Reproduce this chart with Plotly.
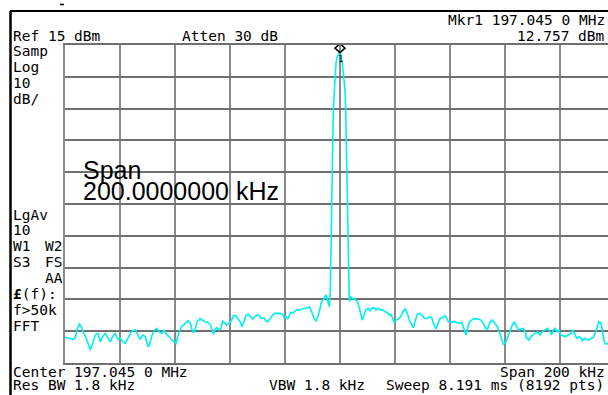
import plotly.graph_objects as go

# ---- data (frequency offset from centre in kHz, level in dBm) ----
center_mhz = 197.045
span_khz = 200
ref_level_dbm = 15
db_per_div = 10

freq_khz = [
    -100.0, -98.67, -96.85, -96.24, -95.64, -94.79, -94.06, -93.21, -92.36, -91.64,
    -90.79, -89.94, -88.97, -88.0, -87.15, -86.30, -85.33, -84.36, -83.52, -82.67,
    -81.70, -80.73, -79.88, -79.03, -78.06, -77.09, -76.24, -75.39, -74.42, -73.45,
    -72.61, -71.76, -70.79, -69.82, -69.21, -68.36, -67.39, -66.55, -65.70, -64.73,
    -64.0, -63.27, -62.30, -61.33, -60.36, -59.64, -58.67, -57.70, -56.85, -56.0,
    -55.27, -54.42, -53.58, -52.85, -52.0, -51.15,
    -50.91, -49.94, -49.09, -48.24, -47.27, -46.67, -46.06, -45.45, -44.85, -44.0,
    -43.27, -42.67, -42.06, -41.21, -40.24, -39.39, -38.79, -37.94, -37.21, -36.36,
    -35.64, -34.91, -34.18, -33.33, -32.48, -31.76, -30.91, -30.06, -29.33, -28.48,
    -27.64, -26.91, -26.18, -25.21, -24.48, -23.64, -22.79, -21.82, -20.85, -20.24,
    -19.64, -19.03, -18.42, -17.94, -17.21, -16.36, -15.52, -14.55, -13.94, -13.09,
    -12.36, -11.88, -11.15, -10.30, -9.45, -8.73, -8.0, -7.27, -6.67, -5.82,
    -5.09, -4.61, -4.24, -3.88,
    -3.52, -3.39, -3.15, -2.91, -2.55, -2.42, -2.06, -1.82, -1.45, -0.91, 0.0,
    0.55, 0.84, 1.35, 1.82, 2.07, 2.18, 2.55, 2.91, 3.15, 3.39,
    3.88, 4.61, 5.45, 6.30, 7.03, 7.64, 8.12, 8.73, 9.45, 10.30,
    10.91, 11.52, 12.36, 13.09, 13.94, 14.55, 15.52, 16.36, 17.21, 17.94,
    18.55, 19.15, 19.76, 20.36, 21.21, 22.06, 23.03, 23.76, 24.48, 25.21,
    26.06, 26.67, 27.27, 28.12, 29.09, 30.06, 30.91, 31.76, 32.73, 33.45,
    34.18, 34.91, 35.76, 36.36, 37.33, 38.18, 38.79, 39.39, 40.0, 40.73,
    41.45, 42.42, 43.39, 44.24, 45.09, 45.82, 46.42, 47.03, 47.88, 48.73,
    50.30, 51.27, 52.12, 52.97, 53.70, 54.55, 55.39, 56.36, 57.21, 57.94,
    58.79, 59.39, 60.24, 60.97, 61.82, 62.67, 63.39, 64.24, 64.85, 65.82,
    66.67, 67.27, 67.88, 68.73, 69.45, 70.30, 71.15, 71.88, 72.73, 73.58,
    74.55, 75.52, 76.36, 76.97, 77.58, 78.18, 78.91, 79.64, 80.36, 81.21,
    82.06, 83.03, 84.0, 84.61, 85.21, 86.06, 86.91, 87.64, 88.12, 88.85,
    89.70, 90.55, 91.27, 92.12, 92.97, 93.70, 94.18, 94.91, 95.52, 96.12,
    96.73, 97.58, 98.5, 100.0,
]

level_dbm = [
    -76.9, -77.2, -77.6, -76.9, -74.6, -72.8, -73.6, -75.7, -76.9, -78.8,
    -80.9, -78.8, -76.2, -75.7, -78.3, -76.7, -75.7, -77.2, -78.3, -76.7,
    -75.7, -77.6, -77.2, -78.3, -78.8, -77.2, -75.7, -74.8, -74.6, -76.2,
    -77.6, -76.2, -76.7, -79.9, -79.3, -76.2, -74.6, -74.1, -75.2, -75.7,
    -74.6, -75.7, -76.7, -77.6, -78.3, -78.8, -75.7, -73.6, -73.1, -72.5,
    -71.7, -72.5, -75.2, -75.2, -72.0, -71.5,
    -71.0, -71.5, -72.0, -72.2, -72.8, -74.1, -76.0, -74.6, -73.9, -74.6,
    -74.1, -71.8, -72.2, -73.1, -72.5, -71.5, -70.1, -70.1, -71.0, -72.0,
    -73.6, -72.0, -70.1, -69.7, -70.4, -71.2, -70.4, -69.9, -70.1, -71.0,
    -70.8, -71.8, -72.0, -71.0, -69.9, -69.4, -69.4, -69.4, -69.7, -70.8,
    -70.4, -71.2, -69.9, -69.1, -69.4, -68.6, -68.3, -68.3, -68.0, -68.0,
    -67.8, -67.6, -67.3, -68.9, -71.0, -71.8, -70.4, -67.8, -65.7, -64.7,
    -63.6, -64.9, -66.8, -67.3,
    -62.0, -52.6, -40.0, -27.5, -11.7, -5.4, 0.8, 4.9, 9.3, 11.5, 12.757,
    10.3, 9.3, 4.9, 0.8, -5.4, -11.7, -27.5, -43.2, -55.8, -65.7,
    -64.2, -64.7, -64.9, -65.7, -67.6, -69.9, -71.5, -69.9, -68.3, -67.8,
    -68.6, -67.8, -67.6, -68.3, -67.8, -68.3, -68.3, -68.9, -69.1, -69.9,
    -69.7, -71.0, -72.5, -71.5, -71.2, -70.4, -68.6, -68.0, -69.4, -71.5,
    -72.8, -73.9, -72.0, -69.7, -69.4, -70.1, -71.0, -71.0, -70.4, -71.0,
    -73.1, -74.3, -72.5, -71.0, -70.8, -70.1, -70.8, -72.0, -71.8, -72.2,
    -72.0, -72.2, -72.5, -72.2, -74.1, -76.2, -74.1, -72.2, -71.5, -71.0,
    -71.2, -71.5, -72.5, -74.1, -74.3, -72.2, -71.5, -72.5, -73.6, -75.2,
    -77.2, -79.1, -78.5, -76.7, -74.9, -73.1, -72.0, -73.3, -74.6, -74.3,
    -74.1, -75.2, -77.2, -77.8, -76.7, -76.0, -75.7, -75.2, -76.2, -75.2,
    -74.6, -74.1, -75.2, -76.0, -74.6, -74.1, -75.2, -74.6, -76.2, -76.4,
    -76.7, -76.2, -75.7, -74.6, -75.7, -77.2, -76.7, -77.2, -78.1, -77.2,
    -77.5, -77.8, -77.2, -77.0, -75.2, -73.1, -72.0, -72.5, -75.2, -78.3,
    -79.1, -78.8, -78.5, -78.0,
]

marker_freq_khz = 0.0
marker_level_dbm = 12.757

# ---- layout geometry (pixels) ----
W, H = 608, 395
L, R, T, B = 65, 0, 45, 32
PW, PH = W - L - R, H - T - B
DIV_PX = 55.0  # one horizontal division in pixels

x_lo = -span_khz / 2
x_hi = x_lo + PW / DIV_PX * (span_khz / 10)
y_hi = ref_level_dbm
y_lo = ref_level_dbm - 10 * db_per_div


def px(x):
    return (x - L) / PW


def py(y):
    return (H - B - y) / PH


MONO = "DejaVu Sans Mono"
FS = 14.5

fig = go.Figure()
fig.add_trace(go.Scatter(
    x=freq_khz, y=level_dbm, mode="lines",
    line=dict(color="#00f0f0", width=1.6), hoverinfo="skip", showlegend=False,
))

annots = []


def txt(s, x, y, anchor="left", size=FS, family=MONO, yanchor="middle"):
    annots.append(dict(
        text=s, x=px(x), y=py(y), xref="paper", yref="paper",
        xanchor=anchor, yanchor=yanchor, showarrow=False,
        font=dict(family=family, size=size, color="black"),
    ))


txt("Mkr1 197.045 0 MHz", 607, 20, anchor="right")
txt("Ref 15 dBm", 11, 36)
txt("Atten 30 dB", 180, 36)
txt("12.757 dBm", 607, 36, anchor="right")
for s, yy in [("Samp", 51), ("Log", 67), ("10", 83), ("dB/", 99)]:
    txt(s, 11, yy)
txt("LgAv", 11, 215)
txt("10", 11, 230.5)
txt("W1", 11, 246.3)
txt("W2", 43, 246.3)
txt("S3", 11, 262)
txt("FS", 43, 262)
txt("AA", 43, 278)
txt("<b>£</b>(f):", 11, 294)
txt("f>50k", 11, 310)
txt("FFT", 11, 326)
txt("Center 197.045 0 MHz", 11, 372)
txt("Span 200 kHz", 607, 372, anchor="right")
txt("Res BW 1.8 kHz", 11, 395, yanchor="bottom")
txt("VBW 1.8 kHz", 267, 395, yanchor="bottom")
txt("Sweep 8.191 ms (8192 pts)", 606, 395, anchor="right", yanchor="bottom")
txt("Span", 81, 170, size=25, family="Liberation Sans")
txt("200.0000000 kHz", 81, 191, size=25, family="Liberation Sans")

annots.append(dict(
    text="1", x=marker_freq_khz, y=marker_level_dbm, xref="x", yref="y",
    showarrow=False, yshift=-7, font=dict(family=MONO, size=9, color="black"),
))

shapes = [
    # outer frame
    dict(type="line", xref="paper", yref="paper", x0=px(10.5), x1=px(10.5),
         y0=py(11), y1=py(H + 5), line=dict(color="black", width=2.5)),
    dict(type="line", xref="paper", yref="paper", x0=px(10), x1=px(W + 5),
         y0=py(11), y1=py(11), line=dict(color="black", width=1.8)),
    dict(type="line", xref="paper", yref="paper", x0=px(60), x1=px(64),
         y0=py(4.5), y1=py(4.5), line=dict(color="black", width=1.5)),
    # marker diamond (pixel offsets anchored at the marker point)
    dict(type="path", xref="x", yref="y", xsizemode="pixel", ysizemode="pixel",
         xanchor=marker_freq_khz, yanchor=marker_level_dbm,
         path="M -5 4 L 0 8.5 L 5 4 L 0 -0.5 Z",
         line=dict(color="black", width=1.5)),
]

fig.update_layout(
    width=W, height=H,
    margin=dict(l=L, r=R, t=T, b=B, pad=0),
    paper_bgcolor="white", plot_bgcolor="white",
    annotations=annots, shapes=shapes,
    xaxis=dict(range=[x_lo, x_hi], tick0=x_lo, dtick=span_khz / 10,
               showgrid=True, gridcolor="#8a8a8a", gridwidth=2,
               showticklabels=False, ticks="", zeroline=False,
               showline=True, linecolor="#707070", linewidth=2, mirror=True),
    yaxis=dict(range=[y_lo, y_hi], tick0=y_lo, dtick=db_per_div,
               showgrid=True, gridcolor="#707070", gridwidth=1.5,
               showticklabels=False, ticks="", zeroline=False,
               showline=True, linecolor="#8a8a8a", linewidth=2, mirror=False),
)

fig.write_html(
    "out.html",
    config={"displayModeBar": False},
    post_script="document.body.style.margin='0';document.body.style.padding='0';",
)
